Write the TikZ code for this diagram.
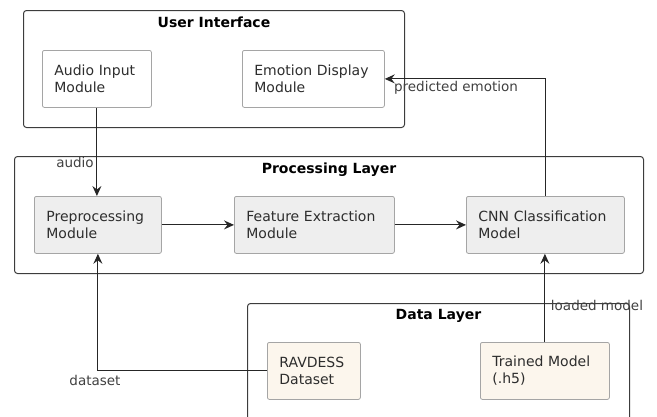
\documentclass[tikz,border=0pt]{standalone}
\usepackage{fontspec}
\setmainfont{DejaVu Sans}
\usetikzlibrary{arrows.meta,positioning}
\definecolor{frameline}{RGB}{60,60,60}
\definecolor{boxline}{RGB}{165,165,165}
\definecolor{procfill}{RGB}{238,238,238}
\definecolor{datafill}{RGB}{252,246,237}
\definecolor{ink}{RGB}{45,45,45}

\begin{document}
\begin{tikzpicture}[
  x=1pt, y=-1pt,
  font=\fontsize{14}{17}\selectfont, text=ink,
  layer/.style={draw=frameline, line width=1pt, rounded corners=3pt, anchor=north west, inner sep=0pt},
  title/.style={font=\fontsize{14}{17}\selectfont\bfseries, text=black, anchor=north, yshift=-3pt},
  module/.style={draw=boxline, line width=0.8pt, rounded corners=2pt, fill=white, anchor=north west,
    align=left, inner xsep=12pt, inner ysep=0pt, minimum height=57pt},
  proc/.style={module, fill=procfill},
  store/.style={module, fill=datafill},
  lbl/.style={font=\fontsize{13.5}{16}\selectfont, text=black!75, inner sep=0pt},
  arr/.style={-{Stealth[length=10pt,width=9pt,inset=3.5pt]}, line width=1pt, draw=black!85}
]
  \useasboundingbox (0,0) rectangle (657,416);

  % layers
  \node[layer, minimum width=381pt, minimum height=117pt] (ui) at (23,10) {};
  \node[title] (uititle) at (ui.north) {User Interface};
  \node[layer, minimum width=629pt, minimum height=117pt] (pl) at (14,156) {};
  \node[title] (pltitle) at (pl.north) {Processing Layer};
  \node[layer, minimum width=382pt, minimum height=140pt] (dl) at (247,303) {};
  \node[title] (dltitle) at (dl.north) {Data Layer};

  % modules
  \node[module, text width=85pt] (audio) at (42,50) {Audio Input\\Module};
  \node[module, text width=118pt] (emo) at (242,50) {Emotion Display\\Module};

  \node[proc, text width=103pt] (prep) at (34,196) {Preprocessing\\Module};
  \node[proc, text width=136pt] (feat) at (234,196) {Feature Extraction\\Module};
  \node[proc, text width=134pt] (cnn) at (466,196) {CNN Classification\\Model};

  \node[store, text width=69pt] (ravdess) at (267,342) {RAVDESS\\Dataset};
  \node[store, text width=105pt] (trained) at (480,342) {Trained Model\\(.h5)};

  % flows
  \draw[arr] (audio.south) -- (audio.south |- prep.north);
  \draw[arr] (prep) -- (feat);
  \draw[arr] (feat) -- (cnn);
  \draw[arr] (cnn.north) |- (emo.east);
  \draw[arr] (trained.north) -- (trained.north |- cnn.south);
  \draw[arr] (ravdess.west) -| (prep.south);

  \node[lbl] (audiolbl) at (75,162) {audio};
  \node[lbl] (predlbl) at (456,88) {predicted emotion};
  \node[lbl] (loadlbl) at (597,305) {loaded model};
  \node[lbl] (datalbl) at (95,380) {dataset};
\end{tikzpicture}
\end{document}
